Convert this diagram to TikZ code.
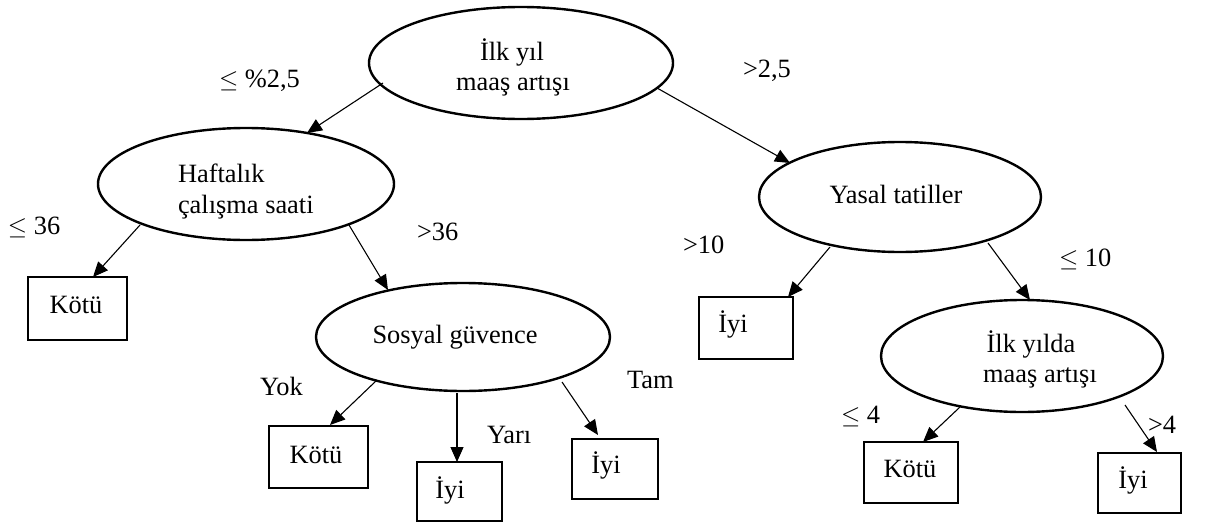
\documentclass[tikz,border=0pt]{standalone}
\usepackage{fontspec}
\setmainfont{Liberation Serif}
\usetikzlibrary{arrows.meta,shapes.geometric,calc}
\newcommand{\lessEq}{$\leq$}
\begin{document}
\begin{tikzpicture}[x=1pt,y=-1pt,
  every node/.style={font=\fontsize{26.4}{30}\selectfont, inner sep=0pt, outer sep=0pt},
  decision/.style={draw, ellipse, line width=2.4pt},
  leaf/.style={draw, rectangle, line width=1.9pt},
  txt/.style={anchor=base},
  ltxt/.style={anchor=base west},
  branch/.style={line width=1.1pt, -{Triangle[length=15pt,width=13pt]}}]
\useasboundingbox (0,0) rectangle (1205,522);

% decision nodes
\node[decision, minimum width=304pt, minimum height=112pt] (root) at (521,63) {};
\node[decision, minimum width=296pt, minimum height=112pt] (haft) at (246,184) {};
\node[decision, minimum width=294pt, minimum height=108pt] (sosyal) at (463,337) {};
\node[decision, minimum width=282pt, minimum height=110pt] (yasal) at (900,197) {};
\node[decision, minimum width=282pt, minimum height=112pt] (ilk) at (1022,356) {};

\node[txt] (rootA) at (512,60) {İlk yıl};
\node[txt] (rootB) at (513,90) {maaş artışı};
\node[ltxt] (haftA) at (178,182) {Haftalık};
\node[ltxt] (haftB) at (178,213) {çalışma saati};
\node[txt] (sosyalT) at (455,343) {Sosyal güvence};
\node[txt] (yasalT) at (896,203) {Yasal tatiller};
\node[txt] (ilkA) at (1031,352) {İlk yılda};
\node[txt] (ilkB) at (1040,382) {maaş artışı};

% leaves
\node[leaf, minimum width=99pt, minimum height=63pt] (k1) at (77.5,308.5) {};
\node[leaf, minimum width=99pt, minimum height=62pt] (k2) at (318.5,457) {};
\node[leaf, minimum width=85pt, minimum height=59pt] (i2) at (459.5,491.5) {};
\node[leaf, minimum width=86pt, minimum height=60pt] (i3) at (615,469) {};
\node[leaf, minimum width=94pt, minimum height=62pt] (i4) at (746,328) {};
\node[leaf, minimum width=94pt, minimum height=61pt] (k3) at (911,472.5) {};
\node[leaf, minimum width=83pt, minimum height=60pt] (i5) at (1139.5,483) {};

\node[txt] (k1T) at (76,313) {Kötü};
\node[txt] (k2T) at (316,463) {Kötü};
\node[txt] (i2T) at (450,498) {İyi};
\node[txt] (i3T) at (606,473) {İyi};
\node[txt] (i4T) at (733,332) {İyi};
\node[txt] (k3T) at (910,477) {Kötü};
\node[txt] (i5T) at (1133,488) {İyi};

% branch conditions
\node[ltxt] (l1) at (219,87) {\lessEq\ \%2,5};
\node[ltxt] (l2) at (743,77) {>2,5};
\node[ltxt] (l3) at (8,234) {\lessEq\ 36};
\node[ltxt] (l4) at (417,240) {>36};
\node[ltxt] (l5) at (260,395) {Yok};
\node[ltxt] (l6) at (487,443) {Yarı};
\node[ltxt] (l7) at (627,388) {Tam};
\node[ltxt] (l8) at (683,253) {>10};
\node[ltxt] (l9) at (1059,266) {\lessEq\ 10};
\node[ltxt] (l10) at (841,423) {\lessEq\ 4};
\node[ltxt] (l11) at (1148,433) {>4};

% branches
\draw[branch] ($(root)+(-138,20)$) -- ($(haft)+(61,-51)$);
\draw[branch] ($(root)+(136,25)$) -- ($(yasal)+(-110,-34)$);
\draw[branch] ($(haft)+(-106,41)$) -- ($(k1)+(15.5,-31.5)$);
\draw[branch] ($(haft)+(103,41)$) -- ($(sosyal)+(-75,-47)$);
\draw[branch] ($(sosyal)+(-86,43)$) -- ($(k2)+(11.5,-32)$);
\draw[branch] ($(sosyal)+(-6,56)$) -- ($(i2)+(-2.5,-29.5)$);
\draw[branch] ($(sosyal)+(99,45)$) -- ($(i3)+(-17,-34)$);
\draw[branch] ($(yasal)+(-70,50)$) -- ($(i4)+(42,-31)$);
\draw[branch] ($(yasal)+(88,46)$) -- ($(ilk)+(8,-56)$);
\draw[branch] ($(ilk)+(-62,51)$) -- ($(k3)+(12,-30.5)$);
\draw[branch] ($(ilk)+(103,49)$) -- ($(i5)+(17.5,-31)$);
\end{tikzpicture}
\end{document}
